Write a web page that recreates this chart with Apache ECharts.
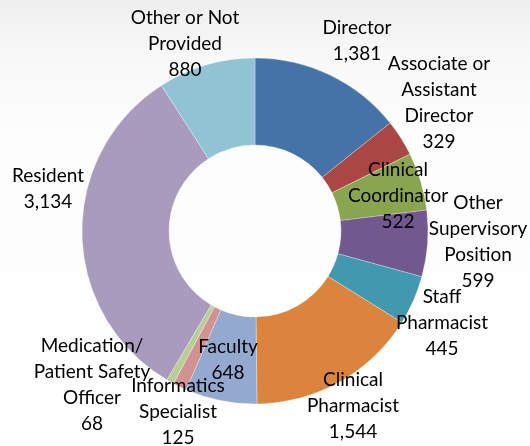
<!DOCTYPE html>
<html>
<head>
<meta charset="utf-8">
<script src="https://cdn.jsdelivr.net/npm/echarts@6/dist/echarts.min.js"></script>
<style>
html,body{margin:0;padding:0;}
#c{width:530px;height:446px;background:linear-gradient(180deg,#eeeeee 0%,#f8f8f8 12%,#fdfdfd 30%,#ffffff 100%);}
</style>
</head>
<body>
<div id="c"></div>
<script>
var categories = ['Director', 'Associate or\nAssistant\nDirector', 'Clinical\nCoordinator', 'Other\nSupervisory\nPosition', 'Staff\nPharmacist', 'Clinical\nPharmacist', 'Faculty', 'Informatics\nSpecialist', 'Medication/\nPatient Safety\nOfficer', 'Resident', 'Other or Not\nProvided'];
var values = [1381, 329, 522, 599, 445, 1544, 648, 125, 68, 3134, 880];
var colors = ['#4572A7', '#AA4643', '#89A54E', '#71588F', '#4198AF', '#DB843D', '#93A9CF', '#D19392', '#B9CD96', '#A99BBD', '#92C3D5'];
// label anchor centres (text-block centre) in pixels
var labelX = [357, 439, 398, 478, 442, 353, 228, 178, 92, 48, 185];
var labelY = [41, 103, 196, 242, 323, 406, 360, 412, 385, 189, 44];

var chart = echarts.init(document.getElementById('c'), null, {renderer: 'canvas'});
chart.setOption({
  backgroundColor: 'transparent',
  animation: false,
  series: [{
    type: 'pie',
    center: [255, 231],
    radius: [86, 173],
    startAngle: 90,
    clockwise: true,
    avoidLabelOverlap: false,
    itemStyle: {borderColor: 'rgba(255,255,255,0.6)', borderWidth: 0.5},
    label: {
      show: true,
      position: 'outside',
      fontFamily: 'Lato',
      fontSize: 19,
      lineHeight: 26,
      color: '#000',
      align: 'center',
      formatter: function (p) {
        return p.name + '\n' + p.value.toLocaleString('en-US');
      }
    },
    labelLine: {show: false},
    labelLayout: function (params) {
      var i = params.dataIndex;
      return {x: labelX[i], y: labelY[i], align: 'center', verticalAlign: 'middle', hideOverlap: false, moveOverlap: null};
    },
    data: categories.map(function (n, i) {
      return {name: n, value: values[i], itemStyle: {color: colors[i]}};
    })
  }]
});
</script>
</body>
</html>
